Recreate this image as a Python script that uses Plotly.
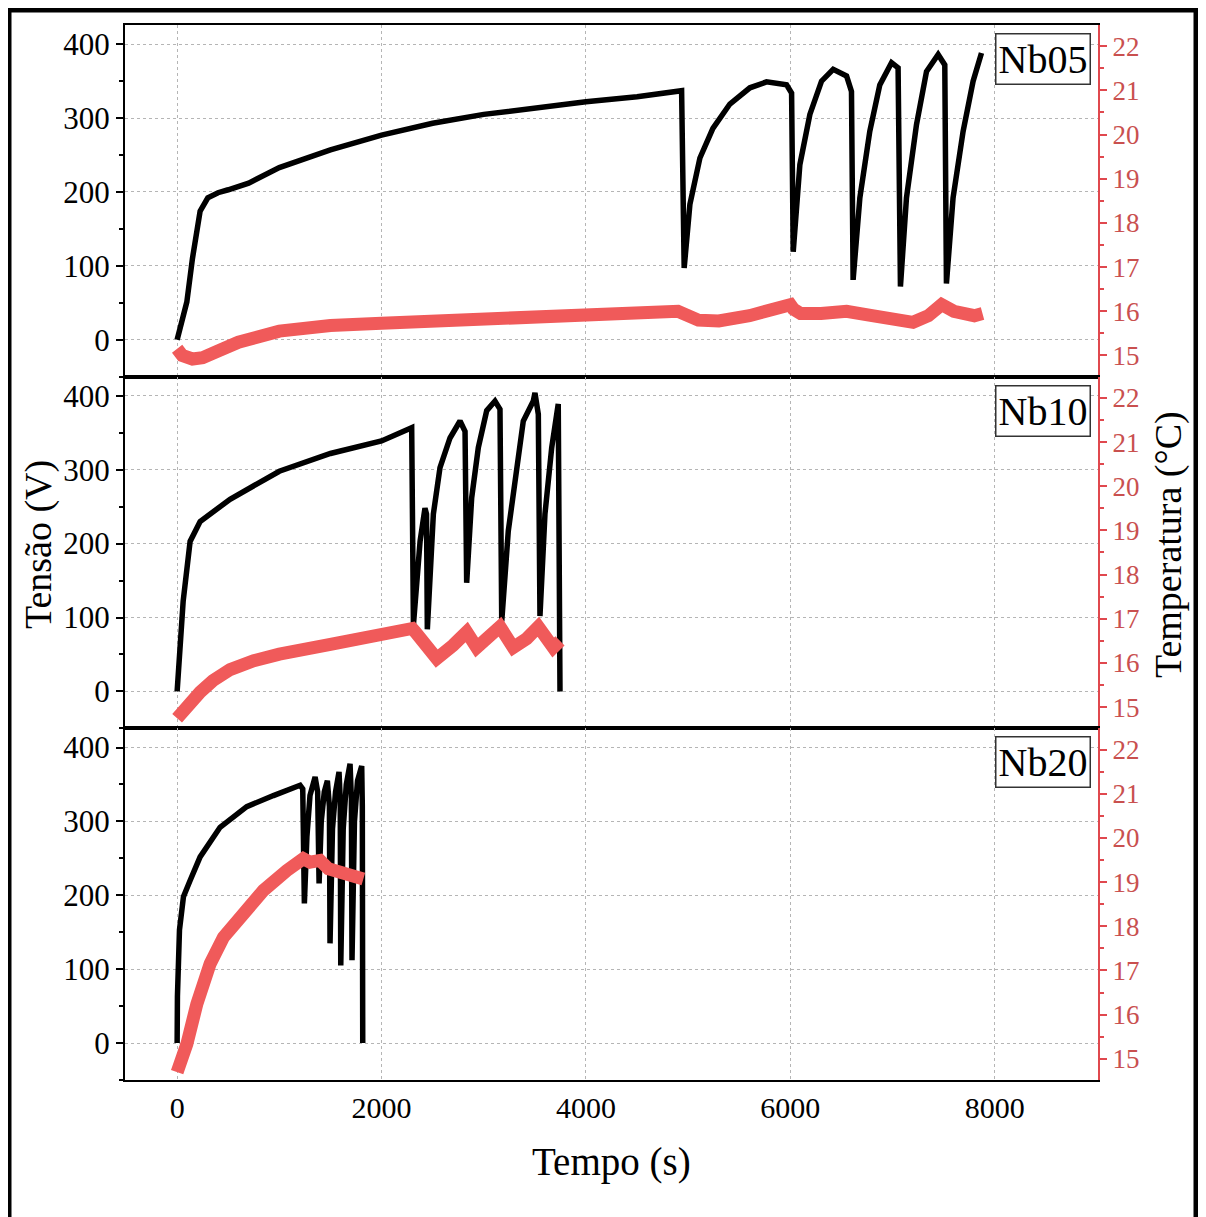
import plotly.graph_objects as go
from plotly.subplots import make_subplots

# ---------------- data ----------------
# Nb05
t05_v = [0, 50, 95, 150, 225, 300, 400, 500, 700, 1000, 1500, 2000, 2500, 3000, 3500, 4000, 4500,
         4936, 4961, 5017, 5115, 5242, 5408, 5604, 5767, 5963, 6012,
         6028, 6093, 6191, 6305, 6419, 6550, 6598,
         6614, 6680, 6777, 6875, 6990, 7054,
         7077, 7136, 7234, 7332, 7446, 7511,
         7527, 7592, 7690, 7788, 7870]
v05 = [0, 27, 51, 110, 174, 192, 199, 203, 212, 233, 257, 277, 293, 305, 314, 322, 329,
       337, 97, 183, 246, 286, 319, 341, 349, 345, 334,
       119, 237, 305, 350, 366, 357, 336,
       81, 192, 282, 345, 375, 368,
       72, 192, 291, 363, 386, 372,
       76, 192, 282, 350, 388]
t05_T = [0, 50, 150, 250, 400, 600, 1000, 1500, 2000, 2500, 3000, 3500, 4000, 4500, 4900, 5100,
         5300, 5600, 5900, 6000, 6030, 6100, 6300, 6550, 6800, 7000, 7200, 7350, 7480, 7600, 7800, 7880]
T05 = [15.15, 15.0, 14.92, 14.95, 15.1, 15.3, 15.55, 15.68, 15.73, 15.78, 15.82, 15.87, 15.92, 15.97, 16.0, 15.8,
       15.78, 15.9, 16.05, 16.15, 16.05, 15.95, 15.95, 16.0, 15.9, 15.85, 15.75, 15.9, 16.15, 16.0, 15.9, 15.95]

# Nb10
t10_v = [0, 30, 59, 127, 225, 518, 1000, 1500, 2000, 2295,
         2312, 2377, 2425, 2440,
         2448, 2507, 2572, 2670, 2768, 2817,
         2833, 2882, 2947, 3029, 3110, 3159,
         3176, 3240, 3322, 3387, 3485, 3501, 3534,
         3550, 3599, 3665, 3729, 3746]
v10 = [0, 60, 122, 203, 230, 260, 298, 322, 339, 357,
       90, 203, 248, 240,
       84, 240, 303, 343, 366, 352,
       147, 262, 330, 380, 393, 382,
       95, 217, 307, 366, 393, 404, 375,
       102, 240, 330, 389, 0]
t10_T = [0, 50, 120, 225, 350, 518, 750, 1000, 1500, 2000, 2300, 2330, 2450, 2540, 2700, 2833,
         2931, 3050, 3159, 3289, 3420, 3534, 3680, 3746]
T10 = [14.75, 14.9, 15.1, 15.34, 15.6, 15.85, 16.05, 16.2, 16.42, 16.62, 16.78, 16.7, 16.3, 16.1, 16.4, 16.7,
       16.35, 16.6, 16.82, 16.35, 16.55, 16.82, 16.35, 16.5]

# Nb20
t20_v = [0, 3, 23, 62, 127, 225, 420, 681, 942, 1203, 1229,
         1245, 1270, 1300, 1350, 1375,
         1389, 1410, 1440, 1470, 1490,
         1496, 1520, 1550, 1584, 1596,
         1601, 1625, 1655, 1692, 1705,
         1711, 1735, 1765, 1806, 1812, 1816]
v20 = [0, 63, 153, 198, 220, 252, 292, 320, 335, 349, 344,
       189, 280, 335, 360, 340,
       216, 300, 340, 355, 320,
       135, 290, 340, 367, 330,
       105, 290, 350, 378, 330,
       112, 300, 355, 375, 320, 0]
t20_T = [0, 40, 95, 193, 323, 453, 616, 844, 1073, 1235, 1300, 1398, 1480, 1562, 1650, 1724, 1822]
T20 = [14.7, 14.95, 15.33, 16.24, 17.15, 17.75, 18.2, 18.81, 19.26, 19.53, 19.45, 19.49, 19.3, 19.26, 19.2,
       19.11, 19.07]

samples = ["Nb05", "Nb10", "Nb20"]
x_ticks = [0, 2000, 4000, 6000, 8000]
v_ticks = [0, 100, 200, 300, 400]
T_ticks = [15, 16, 17, 18, 19, 20, 21, 22]

series = [(t05_v, v05, t05_T, T05), (t10_v, v10, t10_T, T10), (t20_v, v20, t20_T, T20)]

# ---------------- figure ----------------
FONT = "Liberation Serif"
RED = "#F05A5A"
RED_AX = "#E0484E"
RED_TXT = "#C9504F"

fig = make_subplots(rows=3, cols=1, shared_xaxes=True, vertical_spacing=0,
                    specs=[[{"secondary_y": True}]] * 3)

for i, (tv, vv, tT, TT) in enumerate(series):
    r = i + 1
    fig.add_trace(go.Scatter(x=tv, y=vv, mode="lines", line=dict(color="black", width=5.5),
                             showlegend=False, hoverinfo="skip"), row=r, col=1, secondary_y=False)
    fig.add_trace(go.Scatter(x=tT, y=TT, mode="lines", line=dict(color=RED, width=13),
                             showlegend=False, hoverinfo="skip"), row=r, col=1, secondary_y=True)

for r in (1, 2, 3):
    fig.update_xaxes(domain=[0, 1], range=[-510, 9010], tickvals=x_ticks, showgrid=True,
                     gridcolor="#B5B5B5", griddash="dot", gridwidth=1, showline=True,
                     linecolor="black", linewidth=2, mirror=True, ticks="", zeroline=False,
                     tickfont=dict(family=FONT, size=30, color="black"), row=r, col=1)
    fig.update_yaxes(range=[-50, 426], tickvals=v_ticks, showgrid=True, gridcolor="#B5B5B5",
                     griddash="dot", gridwidth=1, showline=True, linecolor="black", linewidth=2,
                     ticks="outside", ticklen=7, tickwidth=2, tickcolor="black", zeroline=False,
                     minor=dict(dtick=50, tick0=0, ticks="outside", ticklen=4, tickwidth=2,
                                tickcolor="black", showgrid=False),
                     tickfont=dict(family=FONT, size=31, color="black"),
                     row=r, col=1, secondary_y=False)
    fig.update_yaxes(range=[14.52, 22.48], tickvals=T_ticks, showgrid=False, showline=True,
                     linecolor=RED_AX, linewidth=2, ticks="outside", ticklen=7, tickwidth=2,
                     tickcolor=RED_AX, zeroline=False,
                     minor=dict(dtick=0.5, tick0=15, ticks="outside", ticklen=4, tickwidth=2,
                                tickcolor=RED_AX),
                     tickfont=dict(family=FONT, size=27, color=RED_TXT),
                     row=r, col=1, secondary_y=True)

annotations = []
tops = [1.0, 2 / 3, 1 / 3]
for name, top in zip(samples, tops):
    annotations.append(dict(text=name, xref="paper", yref="paper", x=0.9928, y=top - 8 / 1055,
                            xanchor="right", yanchor="top", showarrow=False,
                            font=dict(family=FONT, size=40, color="black"),
                            bordercolor="#333333", borderwidth=1.5, borderpad=2, bgcolor="white"))
annotations.append(dict(text="Tensão (V)", xref="paper", yref="paper", x=(38 - 125) / 973, y=0.507,
                        textangle=-90, showarrow=False, xanchor="center", yanchor="middle",
                        font=dict(family=FONT, size=38, color="black")))
annotations.append(dict(text="Temperatura (°C)", xref="paper", yref="paper", x=(1168 - 125) / 973,
                        y=0.507, textangle=-90, showarrow=False, xanchor="center", yanchor="middle",
                        font=dict(family=FONT, size=38, color="black")))
annotations.append(dict(text="Tempo (s)", xref="paper", yref="paper", x=(611 - 125) / 973,
                        y=(1080 - 1162) / 1055, showarrow=False, xanchor="center", yanchor="middle",
                        font=dict(family=FONT, size=39, color="black")))

# the page adds an 8 px body margin, so the figure is sized/offset to compensate
fig.update_layout(
    width=1190, height=1209,
    margin=dict(l=117, r=100, t=17, b=137),
    paper_bgcolor="white", plot_bgcolor="white",
    font=dict(family=FONT, color="black"),
    annotations=annotations,
    shapes=[dict(type="rect", xref="paper", yref="paper", x0=(9 - 125) / 973, x1=(1196 - 125) / 973,
                 y0=-0.2, y1=(1080 - 10) / 1055, line=dict(color="black", width=5))],
    showlegend=False,
)

fig.write_html("out.html")
